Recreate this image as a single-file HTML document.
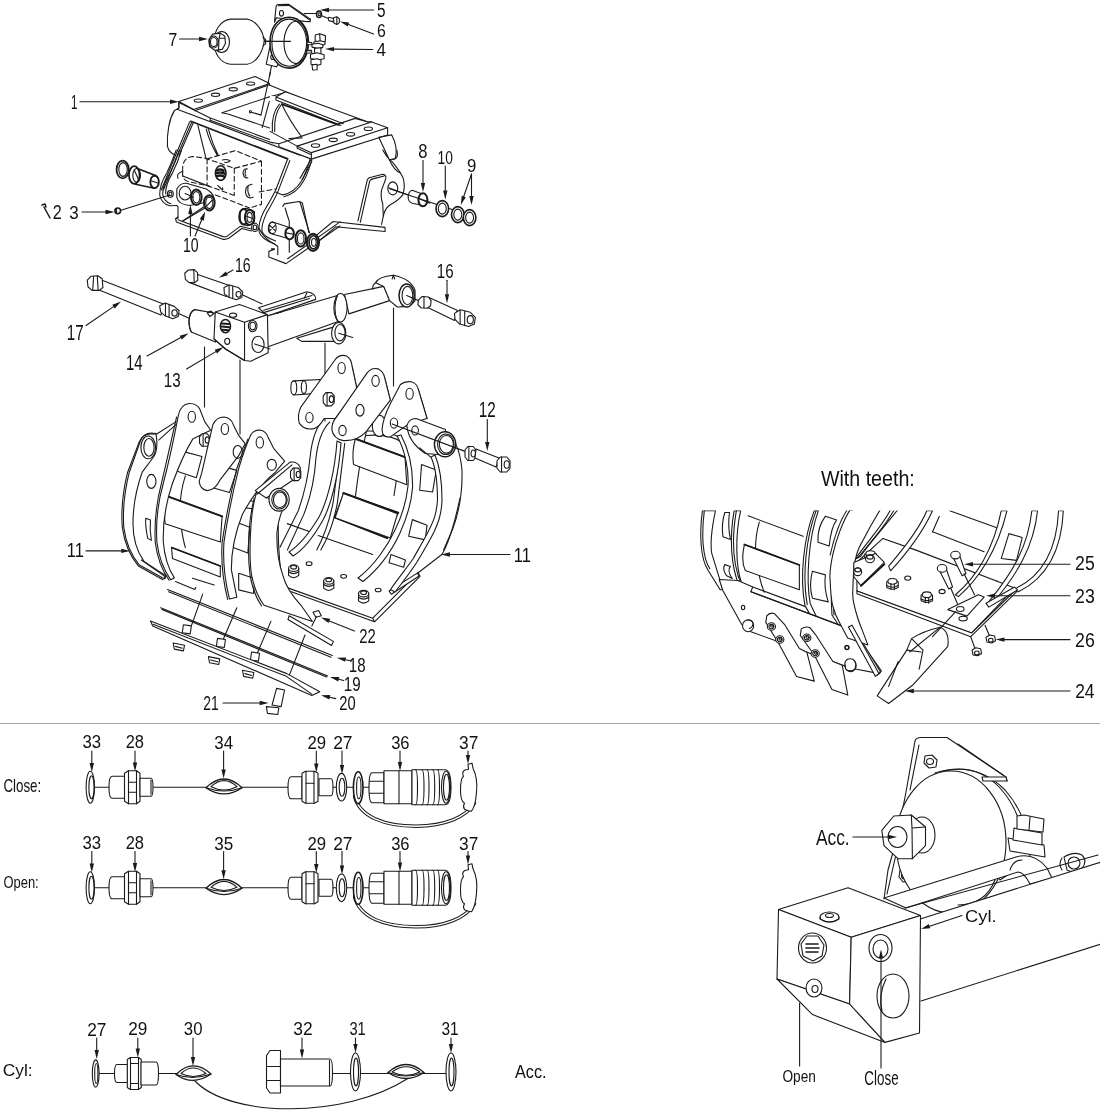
<!DOCTYPE html>
<html><head><meta charset="utf-8"><style>
html,body{margin:0;padding:0;background:#fff;}
svg{display:block;}
text{font-family:"Liberation Sans",sans-serif;fill:#111;}
.ln{stroke:#1a1a1a;stroke-width:1.1;fill:none;stroke-linejoin:round;stroke-linecap:round;}
.ln *{vector-effect:non-scaling-stroke;}
.ln .f{fill:#fff;}
.ln .w{fill:#fff;stroke:none;}
.ln g{fill:none;}
.ln .ld{stroke-width:1.1;}
.ln .ah{fill:#1a1a1a;stroke:none;}
</style></head><body>
<svg width="1100" height="1115" viewBox="0 0 1100 1115">
<defs><clipPath id="clipT"><rect x="690" y="510.5" width="410" height="200"/></clipPath></defs>
<rect width="1100" height="1115" fill="#fff"/>
<rect x="0" y="723" width="1100" height="1" fill="#a6a6a6"/>
<g class="ln">
<line x1="94" y1="787.2" x2="110" y2="787.2"/><line x1="152" y1="787.2" x2="289" y2="787.2"/><ellipse cx="90.3" cy="787.2" rx="4.2" ry="16" class="f"/><ellipse cx="91.5" cy="787.2" rx="2.6" ry="11.5"/><path class="f" d="M112,776.2 h13 v22 h-13 q-3,0 -3,-11 q0,-11 3,-11z"/><path class="f" d="M124.5,773.2 l4,-2.5 h8 l3.5,2.5 v28 l-3.5,2.5 h-8 l-4,-2.5z"/><line x1="128.5" y1="770.7" x2="128.5" y2="803.7"/><line x1="136.5" y1="770.7" x2="136.5" y2="803.7"/><line x1="128.5" y1="782.2" x2="136.5" y2="782.2"/><line x1="128.5" y1="792.2" x2="136.5" y2="792.2"/><path class="f" d="M140,778.2 h11 q2,0 2,9 q0,9 -2,9 h-11z"/><line x1="151" y1="780.2" x2="151" y2="794.2"/><path class="f" d="M206,787.7 Q224,770.2 242,787.7 Q224,800.2 206,787.7 Z" stroke-width="1.3"/><path d="M211,786.7 Q224,774.7 237,786.7 Q224,793.2 211,786.7 Z"/><path d="M206,787.7 Q224,794.2 242,787.7"/><path class="f" d="M291,776.7 h11 v22 h-11 q-3,0 -3,-11 q0,-11 3,-11z"/><path class="f" d="M302,773.2 l3.5,-2 h9 l3.5,2 v28 l-3.5,2 h-9 l-3.5,-2z"/><line x1="306" y1="771.2" x2="306" y2="803.2"/><line x1="314" y1="771.2" x2="314" y2="803.2"/><line x1="306" y1="783.2" x2="314" y2="783.2"/><path class="f" d="M319,778.7 h12 q2,0 2,8.5 q0,8.5 -2,8.5 h-12z"/><line x1="333" y1="787.2" x2="369" y2="787.2"/><ellipse cx="341.5" cy="787.2" rx="5.2" ry="13.8" class="f"/><ellipse cx="342" cy="787.2" rx="2.8" ry="9"/><path d="M354.5,796.2 C360,817.2 385,826.2 416,826.2 C445,826.2 466,817.2 474.5,803.2" stroke-width="3.4"/><path d="M354.5,796.2 C360,817.2 385,826.2 416,826.2 C445,826.2 466,817.2 474.5,803.2" stroke="#fff" stroke-width="1.4"/><ellipse cx="358.2" cy="787.7" rx="4.8" ry="16" class="f" stroke-width="1.6"/><ellipse cx="358.8" cy="787.7" rx="2.2" ry="11"/><path class="f" d="M372,772.7 h12 v30 h-12 q-3,0 -3,-15 q0,-15 3,-15z"/><line x1="369.5" y1="781.2" x2="384" y2="781.2"/><line x1="369.5" y1="793.2" x2="384" y2="793.2"/><path class="f" d="M384,770.7 h28 v33 h-28z"/><line x1="399" y1="770.7" x2="399" y2="803.7"/><path class="f" d="M412,769.7 h33 q6,0 6,17.5 q0,17.5 -6,17.5 h-33z"/><path d="M415.5,769.7 q2,0 2,17.5 q0,17.5 -2,17.5"/><path d="M422,769.7 q2,0 2,17.5 q0,17.5 -2,17.5"/><path d="M427,769.7 q2,0 2,17.5 q0,17.5 -2,17.5"/><path d="M432.7,769.7 q2,0 2,17.5 q0,17.5 -2,17.5"/><path d="M437.5,769.7 q2,0 2,17.5 q0,17.5 -2,17.5"/><ellipse cx="446" cy="787.2" rx="4.5" ry="16"/><ellipse cx="446.5" cy="787.2" rx="3" ry="13"/><path class="f" d="M468,764.2 l4,-1 l1,5 q5,10 3.5,24 q-1,14 -5,19 q-3,0 -7,-2 q-2,-3 0,-6 q-4,-2 -4,-13 q0,-12 3,-14 q-2,-4 1,-6 q3,-1 4,-1z"/><line x1="91.8" y1="751.0" x2="91.8" y2="763.0" class="ld"/><path d="M91.8,772.0L89.6,763.0L94.0,763.0Z" class="ah"/><line x1="135.0" y1="751.0" x2="135.0" y2="762.4" class="ld"/><path d="M135.0,771.4L132.8,762.4L137.2,762.4Z" class="ah"/><line x1="223.6" y1="751.0" x2="223.6" y2="769.6" class="ld"/><path d="M223.6,778.6L221.4,769.6L225.8,769.6Z" class="ah"/><line x1="316.3" y1="751.0" x2="316.3" y2="763.5" class="ld"/><path d="M316.3,772.5L314.1,763.5L318.5,763.5Z" class="ah"/><line x1="342.0" y1="751.0" x2="342.0" y2="765.0" class="ld"/><path d="M342.0,774.0L339.8,765.0L344.2,765.0Z" class="ah"/><line x1="400.0" y1="751.0" x2="400.0" y2="762.0" class="ld"/><path d="M400.0,771.0L397.8,762.0L402.2,762.0Z" class="ah"/><line x1="468.0" y1="751.0" x2="468.0" y2="755.0" class="ld"/><path d="M468.0,764.0L465.8,755.0L470.2,755.0Z" class="ah"/>
<line x1="94" y1="887.8000000000001" x2="110" y2="887.8000000000001"/><line x1="152" y1="887.8000000000001" x2="289" y2="887.8000000000001"/><ellipse cx="90.3" cy="887.8000000000001" rx="4.2" ry="16" class="f"/><ellipse cx="91.5" cy="887.8000000000001" rx="2.6" ry="11.5"/><path class="f" d="M112,876.8000000000001 h13 v22 h-13 q-3,0 -3,-11 q0,-11 3,-11z"/><path class="f" d="M124.5,873.8000000000001 l4,-2.5 h8 l3.5,2.5 v28 l-3.5,2.5 h-8 l-4,-2.5z"/><line x1="128.5" y1="871.3000000000001" x2="128.5" y2="904.3000000000001"/><line x1="136.5" y1="871.3000000000001" x2="136.5" y2="904.3000000000001"/><line x1="128.5" y1="882.8000000000001" x2="136.5" y2="882.8000000000001"/><line x1="128.5" y1="892.8000000000001" x2="136.5" y2="892.8000000000001"/><path class="f" d="M140,878.8000000000001 h11 q2,0 2,9 q0,9 -2,9 h-11z"/><line x1="151" y1="880.8000000000001" x2="151" y2="894.8000000000001"/><path class="f" d="M206,888.3000000000001 Q224,870.8000000000001 242,888.3000000000001 Q224,900.8000000000001 206,888.3000000000001 Z" stroke-width="1.3"/><path d="M211,887.3000000000001 Q224,875.3000000000001 237,887.3000000000001 Q224,893.8000000000001 211,887.3000000000001 Z"/><path d="M206,888.3000000000001 Q224,894.8000000000001 242,888.3000000000001"/><path class="f" d="M291,877.3000000000001 h11 v22 h-11 q-3,0 -3,-11 q0,-11 3,-11z"/><path class="f" d="M302,873.8000000000001 l3.5,-2 h9 l3.5,2 v28 l-3.5,2 h-9 l-3.5,-2z"/><line x1="306" y1="871.8000000000001" x2="306" y2="903.8000000000001"/><line x1="314" y1="871.8000000000001" x2="314" y2="903.8000000000001"/><line x1="306" y1="883.8000000000001" x2="314" y2="883.8000000000001"/><path class="f" d="M319,879.3000000000001 h12 q2,0 2,8.5 q0,8.5 -2,8.5 h-12z"/><line x1="333" y1="887.8000000000001" x2="369" y2="887.8000000000001"/><ellipse cx="341.5" cy="887.8000000000001" rx="5.2" ry="13.8" class="f"/><ellipse cx="342" cy="887.8000000000001" rx="2.8" ry="9"/><path d="M354.5,896.8000000000001 C360,917.8000000000001 385,926.8000000000001 416,926.8000000000001 C445,926.8000000000001 466,917.8000000000001 474.5,903.8000000000001" stroke-width="3.4"/><path d="M354.5,896.8000000000001 C360,917.8000000000001 385,926.8000000000001 416,926.8000000000001 C445,926.8000000000001 466,917.8000000000001 474.5,903.8000000000001" stroke="#fff" stroke-width="1.4"/><ellipse cx="358.2" cy="888.3000000000001" rx="4.8" ry="16" class="f" stroke-width="1.6"/><ellipse cx="358.8" cy="888.3000000000001" rx="2.2" ry="11"/><path class="f" d="M372,873.3000000000001 h12 v30 h-12 q-3,0 -3,-15 q0,-15 3,-15z"/><line x1="369.5" y1="881.8000000000001" x2="384" y2="881.8000000000001"/><line x1="369.5" y1="893.8000000000001" x2="384" y2="893.8000000000001"/><path class="f" d="M384,871.3000000000001 h28 v33 h-28z"/><line x1="399" y1="871.3000000000001" x2="399" y2="904.3000000000001"/><path class="f" d="M412,870.3000000000001 h33 q6,0 6,17.5 q0,17.5 -6,17.5 h-33z"/><path d="M415.5,870.3000000000001 q2,0 2,17.5 q0,17.5 -2,17.5"/><path d="M422,870.3000000000001 q2,0 2,17.5 q0,17.5 -2,17.5"/><path d="M427,870.3000000000001 q2,0 2,17.5 q0,17.5 -2,17.5"/><path d="M432.7,870.3000000000001 q2,0 2,17.5 q0,17.5 -2,17.5"/><path d="M437.5,870.3000000000001 q2,0 2,17.5 q0,17.5 -2,17.5"/><ellipse cx="446" cy="887.8000000000001" rx="4.5" ry="16"/><ellipse cx="446.5" cy="887.8000000000001" rx="3" ry="13"/><path class="f" d="M468,864.8000000000001 l4,-1 l1,5 q5,10 3.5,24 q-1,14 -5,19 q-3,0 -7,-2 q-2,-3 0,-6 q-4,-2 -4,-13 q0,-12 3,-14 q-2,-4 1,-6 q3,-1 4,-1z"/><line x1="91.8" y1="851.6" x2="91.8" y2="863.6" class="ld"/><path d="M91.8,872.6L89.6,863.6L94.0,863.6Z" class="ah"/><line x1="135.0" y1="851.6" x2="135.0" y2="863.0" class="ld"/><path d="M135.0,872.0L132.8,863.0L137.2,863.0Z" class="ah"/><line x1="223.6" y1="851.6" x2="223.6" y2="870.2" class="ld"/><path d="M223.6,879.2L221.4,870.2L225.8,870.2Z" class="ah"/><line x1="316.3" y1="851.6" x2="316.3" y2="864.1" class="ld"/><path d="M316.3,873.1L314.1,864.1L318.5,864.1Z" class="ah"/><line x1="342.0" y1="851.6" x2="342.0" y2="865.6" class="ld"/><path d="M342.0,874.6L339.8,865.6L344.2,865.6Z" class="ah"/><line x1="400.0" y1="851.6" x2="400.0" y2="862.6" class="ld"/><path d="M400.0,871.6L397.8,862.6L402.2,862.6Z" class="ah"/><line x1="468.0" y1="851.6" x2="468.0" y2="855.6" class="ld"/><path d="M468.0,864.6L465.8,855.6L470.2,855.6Z" class="ah"/>
<line x1="99" y1="1073.5" x2="115" y2="1073.5"/><line x1="158" y1="1073.5" x2="178" y2="1073.5"/><line x1="332" y1="1073.5" x2="451" y2="1073.5"/><ellipse cx="95.7" cy="1073.5" rx="3.4" ry="13.6" class="f"/><ellipse cx="96.3" cy="1073.5" rx="1.6" ry="10"/><path class="f" d="M117,1064.5 h10.5 v18 h-10.5 q-2.5,0 -2.5,-9 q0,-9 2.5,-9z"/><path class="f" d="M127.3,1059.5 l3,-2 h8 l3,2 v28 l-3,2 h-8 l-3,-2z"/><line x1="130.5" y1="1057.5" x2="130.5" y2="1089.5"/><line x1="138.5" y1="1057.5" x2="138.5" y2="1089.5"/><line x1="130.5" y1="1063.5" x2="138.5" y2="1063.5"/><line x1="130.5" y1="1083.5" x2="138.5" y2="1083.5"/><path class="f" d="M141,1062.0 h15 q2.5,0 2.5,11.5 q0,11.5 -2.5,11.5 h-15z"/><path d="M194.5,1080.5 C230,1118.5 345,1118.5 407,1079.0"/><path class="f" d="M176,1074.5 Q193,1057.5 211,1074.0 Q193,1086.5 176,1074.5 Z" stroke-width="1.3"/><path d="M181,1073.5 Q193,1062.5 206,1073.5 Q193,1079.5 181,1073.5 Z"/><path d="M176,1074.5 Q193,1080.5 211,1074.0"/><path class="f" d="M270,1050.5 h10.5 v42.5 h-10.5 l-3.5,-5 v-32.5z"/><line x1="267" y1="1066.5" x2="280.5" y2="1066.5"/><line x1="267" y1="1080.5" x2="280.5" y2="1080.5"/><path class="f" d="M280.5,1059.0 h49.5 q2.5,0 2.5,13.5 q0,13.5 -2.5,13.5 h-49.5z"/><line x1="329.5" y1="1060.5" x2="329.5" y2="1085.5"/><ellipse cx="355.5" cy="1072.0" rx="5" ry="19" class="f"/><ellipse cx="356.0" cy="1072.0" rx="2.5" ry="14"/><ellipse cx="451" cy="1072.0" rx="5" ry="19" class="f"/><ellipse cx="451.5" cy="1072.0" rx="2.5" ry="14"/><path class="f" d="M388,1072.5 Q406,1056.5 424,1072.5 Q406,1084.5 388,1072.5 Z" stroke-width="1.3"/><path d="M392,1072.0 Q406,1061.5 420,1072.0 Q406,1078.5 392,1072.0 Z"/><path d="M388,1072.5 Q406,1079.5 424,1072.5"/><line x1="96.7" y1="1038.0" x2="96.7" y2="1050.0" class="ld"/><path d="M96.7,1059.0L94.5,1050.0L98.9,1050.0Z" class="ah"/><line x1="137.8" y1="1038.0" x2="137.8" y2="1048.5" class="ld"/><path d="M137.8,1057.5L135.6,1048.5L140.0,1048.5Z" class="ah"/><line x1="193.0" y1="1038.0" x2="193.0" y2="1057.0" class="ld"/><path d="M193.0,1066.0L190.8,1057.0L195.2,1057.0Z" class="ah"/><line x1="302.0" y1="1038.0" x2="302.0" y2="1049.5" class="ld"/><path d="M302.0,1058.5L299.8,1049.5L304.2,1049.5Z" class="ah"/><line x1="355.5" y1="1038.0" x2="355.5" y2="1044.0" class="ld"/><path d="M355.5,1053.0L353.3,1044.0L357.7,1044.0Z" class="ah"/><line x1="451.0" y1="1038.0" x2="451.0" y2="1044.0" class="ld"/><path d="M451.0,1053.0L448.8,1044.0L453.2,1044.0Z" class="ah"/>
<path class="w" d="M921,737.5 L947,737.5 L1006,777 L1007,781 L1030,800 L1030,880 L884,899 L888,870 L897,838 L906,792 L915,741 Q916,737.5 921,737.5 Z"/><path d="M1007,781 L1006,777 L947,737.5 L921,737.5 Q916,737.5 915,741 L906,792 L897,838 L888,870 L884,899"/><path d="M919,745 L910,790"/><path d="M958,744 L1003,775"/><path d="M897,850 L887,894"/><path class="f" d="M925,756 l7,-1 l5,5 l-1,7 l-7,1 l-5,-5 z"/><ellipse cx="930" cy="761.5" rx="3.5" ry="3"/><path class="f" d="M900,870 l6,-1 l4,5 l-1,7 l-6,1 l-4,-5 z"/><ellipse cx="904.5" cy="876" rx="3" ry="3"/><path class="f" d="M935,773 Q975,760 1005,790 Q1030,818 1030,860 L1000,880 Z" /><path d="M940,772 Q976,762 1000,788 Q1022,812 1025,850"/><ellipse class="f" cx="951" cy="842" rx="55" ry="71"/><path d="M982,777 L1006,777 L1007,781 L983,781 Z" class="f"/><path class="f" d="M1008,838 L1044,845 L1045,857 L1010,851 Z"/><path class="f" d="M1014,828 L1042,833 L1042,845 L1013,840 Z"/><path class="f" d="M1017,816 L1024,815 L1044,819 L1043,832 L1017,829 Z"/><path d="M1030,817 L1029,830"/><ellipse class="f" cx="922" cy="835" rx="13" ry="18"/><path class="f" d="M881.8,830.4 L893.8,816 L911.3,815 L925.5,827 L925.5,845.6 L912.4,858.7 L898,858.7 L884,845.6 Z"/><path d="M911.3,815 L912,828 L925.5,827 M912,828 L912.4,858.7"/><ellipse cx="897.5" cy="837" rx="9.5" ry="10.5"/><path class="f" d="M884,898 L1016,857 Q1034,852 1047,868 L1052,878 L1030,884 Q1024,872 1018,872 L906,908 Z"/><path class="f" d="M1064,857 q10,-6 18,-2 q6,6 0,13 q-8,6 -15,2 z"/><ellipse cx="1074" cy="863" rx="6" ry="6"/><path d="M1062,858 q-4,6 0,12"/><path d="M958,905 Q985,905 995,880 M1010,870 q3,-10 12,-10"/><path class="w" d="M921,918.7 L1101,862 L1101,944 L921,1001 Z"/><path d="M921,918.7 L1101,862 M1101,944 L921,1001"/><path d="M905,908 L1098,855"/><path class="f" d="M778.5,909.5 L848,887.8 L920.5,915.6 L851.2,937.3 Z"/><path class="f" d="M778.5,909.5 L851.2,937.3 L849.6,1004 L777,979 Z"/><path class="f" d="M777,979 L849.6,1004 L885,1042.4 L812.5,1014.6 Z"/><path class="f" d="M851.2,937.3 L920.5,915.6 L919.5,1033 L885,1042.4 L849.6,1004 Z"/><ellipse class="f" cx="829.5" cy="917" rx="9.5" ry="5"/><ellipse cx="829.5" cy="915.5" rx="4" ry="2"/><path d="M820,917 v2 q9.5,6 19,0 v-2"/><ellipse class="f" cx="812.5" cy="948" rx="14" ry="15"/><path class="f" d="M801,944 L807,936 L818,936 L824,945 L822,956 L813,961 L803,956 Z"/><path d="M806,944 h12 M806,948 h13 M806,952 h12" stroke-width="1.6"/><ellipse class="f" cx="814" cy="988" rx="8" ry="9"/><ellipse cx="815" cy="989" rx="3" ry="3.5"/><ellipse class="f" cx="880.5" cy="948" rx="11.5" ry="13.5"/><ellipse cx="880.5" cy="949" rx="7.5" ry="9"/><ellipse class="f" cx="893" cy="996" rx="16" ry="22"/><path d="M882,1011 q-4,-16 4,-32"/><line x1="799.6" y1="1003" x2="799.6" y2="1066"/><line x1="881.0" y1="1068.0" x2="881.0" y2="958.5" class="ld"/><path d="M881.0,949.5L883.2,958.5L878.8,958.5Z" class="ah"/><line x1="853.0" y1="837.0" x2="888.0" y2="837.0" class="ld"/><path d="M897.0,837.0L888.0,839.2L888.0,834.8Z" class="ah"/><line x1="962.0" y1="915.6" x2="929.6" y2="926.2" class="ld"/><path d="M921.0,929.0L928.9,924.1L930.2,928.3Z" class="ah"/>
<g clip-path="url(#clipT)"><g transform="translate(695,505) scale(0.18636)"><path d="M285,58 L580,168"/><path d="M345,92 Q325,160 325,232"/><path class="f" d="M265,212 L560,322 L560,455 L270,352 Q245,300 265,212 Z"/><path d="M265,212 L560,322" stroke-width="1.8"/><path d="M345,380 Q355,430 372,468"/><path d="M310,440 L600,548"/><path class="f" d="M40,30 C22,160 30,290 70,350 L135,455 L150,455 L90,260 C80,200 95,100 110,30 Z"/><path d="M50,30 C34,160 40,285 80,342"/><path class="f" d="M160,40 Q140,100 150,170 L190,185 Q175,110 185,40 Z"/><path class="f" d="M160,320 Q145,345 170,380 L200,395 Q170,350 190,330 Z"/><path class="f" d="M210,30 C185,170 190,330 240,440 L300,522 L312,512 L250,420 C218,330 215,160 245,30 Z"/><path d="M222,30 C198,170 202,320 250,430"/><path class="f" d="M640,30 C585,170 560,380 590,540 L660,662 L677,652 L618,528 C595,400 608,180 662,30 Z"/><path d="M650,30 C597,170 574,380 602,535"/><path class="f" d="M700,60 L760,80 Q730,120 720,220 L660,200 Q655,120 700,60 Z"/><path class="f" d="M630,355 L700,375 Q690,440 715,520 L630,500 Q610,430 630,355 Z"/><path class="f" d="M830,30 C755,170 720,400 735,590 L820,720 L835,710 L760,590 C745,420 770,200 848,30 Z"/><path d="M840,30 C765,170 732,400 746,590"/><path class="f" d="M130,400 L150,460 L250,640 L300,680 L820,870 L860,880 L990,905 L1000,890 L830,650 L800,655 L300,465 L310,440 L230,405 Z"/><path d="M300,465 L820,660"/><path class="f" d="M820,650 L840,640 L995,895 L975,915 Z"/><ellipse cx="258" cy="550" rx="9" ry="12"/><ellipse cx="815" cy="765" rx="10" ry="12"/><path class="f" d="M385,595 Q400,575 425,582 L480,640 L560,770 L600,790 L640,945 L545,920 L450,745 L380,630 Z"/><path class="f" d="M570,665 Q590,650 615,657 L650,700 L740,840 L790,860 L820,1020 L735,990 L640,805 L565,700 Z"/><ellipse class="f" cx="410" cy="652" rx="22" ry="20"/><ellipse cx="410" cy="652" rx="13" ry="12"/><ellipse cx="413" cy="649" rx="7" ry="6"/><ellipse class="f" cx="455" cy="722" rx="22" ry="20"/><ellipse cx="455" cy="722" rx="13" ry="12"/><ellipse cx="458" cy="719" rx="7" ry="6"/><ellipse class="f" cx="600" cy="712" rx="22" ry="20"/><ellipse cx="600" cy="712" rx="13" ry="12"/><ellipse cx="603" cy="709" rx="7" ry="6"/><ellipse class="f" cx="645" cy="797" rx="22" ry="20"/><ellipse cx="645" cy="797" rx="13" ry="12"/><ellipse cx="648" cy="794" rx="7" ry="6"/><ellipse class="f" cx="285" cy="648" rx="30" ry="32"/><path d="M280,618 q30,-4 32,20 q-4,20 -20,25"/><ellipse class="f" cx="835" cy="862" rx="30" ry="32"/><path d="M830,832 q30,-4 32,20 q-4,20 -20,25"/></g><g transform="translate(860,505) scale(0.19091)"><path d="M470,30 L720,120"/><path d="M380,140 L650,245"/><path d="M380,140 L415,60"/><path class="f" d="M780,150 L850,170 L820,290 L740,280 Z"/><path class="f" d="M640,380 L720,400 L690,470 L620,450 Z"/><path class="f" d="M-16,300 L120,175 L290,235 L810,435 L585,670 L-16,450 Z"/><path class="f" d="M-16,450 L585,670 L820,440 L820,455 L580,690 L-16,465 Z"/><path class="f" d="M740,30 C700,230 610,380 500,470 L515,480 C620,390 720,240 770,30 Z"/><path class="f" d="M350,30 C300,150 200,260 150,320 L160,345 C220,280 320,160 380,30 Z"/><path class="f" d="M900,30 C880,220 800,350 680,500 L690,520 C820,370 910,220 930,30 Z"/><path class="f" d="M1040,30 C1030,250 940,380 810,440 L830,455 C960,390 1055,260 1065,30 Z"/><path class="f" d="M660,515 L810,430 L825,445 L675,535 Z"/><path class="f" d="M25,257 v30 q30,18 60,0 v-30 q-30,-18 -60,0 Z"/><path d="M25,277 q30,18 60,0"/><ellipse cx="55" cy="255" rx="24" ry="15" class="f"/><path d="M47,267 v30 M65,269 v30"/><path class="f" d="M140,402 v30 q30,18 60,0 v-30 q-30,-18 -60,0 Z"/><path d="M140,422 q30,18 60,0"/><ellipse cx="170" cy="400" rx="24" ry="15" class="f"/><path d="M162,412 v30 M180,414 v30"/><path class="f" d="M320,472 v30 q30,18 60,0 v-30 q-30,-18 -60,0 Z"/><path d="M320,492 q30,18 60,0"/><ellipse cx="350" cy="470" rx="24" ry="15" class="f"/><path d="M342,482 v30 M360,484 v30"/><ellipse cx="250" cy="383" rx="16" ry="11"/><ellipse cx="430" cy="453" rx="16" ry="11"/><path class="f" d="M485,270 L520,260 L555,360 L535,370 Z"/><ellipse class="f" cx="500" cy="262" rx="25" ry="20"/><path class="f" d="M415,340 L450,330 L485,430 L465,440 Z"/><ellipse class="f" cx="430" cy="332" rx="25" ry="20"/><path d="M545,360 L600,470 M475,435 L520,540"/><path class="f" d="M460,548 L620,470 L650,482 L560,582 Z"/><ellipse cx="525" cy="545" rx="20" ry="13"/><ellipse class="f" cx="540" cy="595" rx="22" ry="12"/><path d="M655,630 L680,690 M580,690 L605,760"/><path class="f" d="M660,693 l20,-12 l25,5 l5,25 l-20,12 l-25,-5 Z"/><ellipse cx="685" cy="708" rx="12" ry="10"/><path class="f" d="M587,760 l20,-12 l25,5 l5,25 l-20,12 l-25,-5 Z"/><ellipse cx="612" cy="775" rx="12" ry="10"/><path class="f" d="M90,1000 L245,760 L270,700 Q330,660 420,640 Q470,660 460,740 L280,940 L150,1040 Z"/><path d="M270,700 Q320,750 330,760 M245,760 L320,770 M200,820 L150,950 M420,640 L260,770 M330,760 L310,860"/><path d="M380,690 L500,560"/></g><g transform="translate(800,505) scale(0.17937)"><path class="f" d="M511,15 C460,120 360,220 309,301 L337,287 C390,210 480,110 554,15 Z"/><path d="M531,15 C478,120 380,220 322,295"/><path class="f" d="M288,15 C240,80 200,200 182,279 C170,340 165,400 168,418 C170,480 175,530 182,560 C195,610 210,640 225,665 L266,741 L378,780 C350,700 330,660 322,630 C300,560 292,520 294,490 C296,420 298,380 301,350 C310,280 325,240 344,210 C380,140 420,70 454,15 Z"/><path d="M271,15 C224,80 186,200 168,279"/><path class="f" d="M300,320 L420,270 L470,320 L340,450 L300,400 Z"/><path d="M340,450 L470,330" stroke-width="2"/><ellipse class="f" cx="390" cy="300" rx="25" ry="22"/><ellipse cx="390" cy="290" rx="18" ry="12"/><ellipse class="f" cx="322" cy="372" rx="22" ry="22"/><ellipse cx="322" cy="362" rx="16" ry="11"/><path class="f" d="M270,680 L290,670 L440,940 L420,955 Z"/><ellipse cx="262" cy="795" rx="12" ry="10"/><path class="f" d="M250,880 Q260,850 295,860 Q320,880 305,915 Q280,935 255,915 Z"/></g></g><line x1="1070.0" y1="564.2" x2="973.0" y2="564.2" class="ld"/><path d="M964.0,564.2L973.0,562.0L973.0,566.4Z" class="ah"/><line x1="1070.0" y1="595.7" x2="995.0" y2="595.7" class="ld"/><path d="M986.0,595.7L995.0,593.5L995.0,597.9Z" class="ah"/><line x1="1070.0" y1="639.6" x2="1004.5" y2="639.6" class="ld"/><path d="M995.5,639.6L1004.5,637.4L1004.5,641.8Z" class="ah"/><line x1="1070.0" y1="691.0" x2="913.9" y2="691.0" class="ld"/><path d="M904.9,691.0L913.9,688.8L913.9,693.2Z" class="ah"/>
<g transform="translate(140,100) scale(0.11818)"><path d="M320,75 L292,88 Q255,150 243,225 Q228,310 232,390 Q245,450 300,465"/><path d="M420,185 L300,470 L180,762 M436,190 L316,470 L198,762 M450,195 L330,470"/><path d="M490,215 L560,500 M560,245 Q590,360 650,460 M580,250 Q612,370 662,468 L650,470"/><path d="M430,180 L1250,498" stroke-width="1.7"/></g><g transform="translate(100,150) scale(0.11818)"><path d="M645,0 Q610,100 565,195 Q505,290 505,380 Q520,455 590,472 L650,470 M672,0 Q640,100 590,200 Q530,290 530,375 Q545,440 600,455 M690,0 Q660,100 610,200 Q555,290 555,370"/><path class="f" d="M650,330 Q690,260 760,290 L900,330 Q980,380 960,430 L760,470 Q660,460 650,400 Z"/><path d="M700,220 L930,310 M660,240 Q640,200 700,180"/><ellipse cx="720" cy="365" rx="50" ry="58"/><ellipse class="f" cx="595" cy="372" rx="25" ry="28"/><ellipse cx="595" cy="372" rx="13" ry="15"/><path d="M590,380 L170,512"/><ellipse class="f" cx="815" cy="400" rx="45" ry="65" stroke-width="2"/><ellipse cx="815" cy="400" rx="30" ry="48"/><ellipse class="f" cx="925" cy="447" rx="45" ry="65" stroke-width="2"/><ellipse cx="925" cy="447" rx="30" ry="48"/><path d="M700,600 L880,480 M720,368 L790,400 M905,470 L950,425"/><path d="M650,470 L660,480 L660,575 L645,580"/><ellipse class="f" cx="150" cy="515" rx="24" ry="24" stroke-width="1.6"/><path d="M140,500 v30"/><ellipse class="f" cx="192" cy="165" rx="52" ry="75" stroke-width="1.8"/><ellipse cx="195" cy="165" rx="36" ry="58"/><path class="f" d="M300,150 L470,215 Q505,240 490,290 Q470,330 440,320 L300,290 Z" stroke-width="1.6"/><ellipse class="f" cx="290" cy="212" rx="45" ry="75" stroke-width="1.8"/><ellipse cx="310" cy="215" rx="32" ry="58"/><path d="M290,170 L330,260"/><ellipse class="f" cx="462" cy="270" rx="36" ry="52" stroke-width="1.8"/><path d="M430,260 L490,280"/><path stroke-dasharray="5,3" d="M700,180 Q690,70 780,55 L900,70 M700,180 Q690,260 760,270 L900,300"/></g><g transform="translate(200,150) scale(0.11818)"><path d="M740,80 L640,340 Q600,420 540,520 Q490,620 500,690 Q515,750 630,795 M760,90 L660,350 Q625,430 565,530 Q515,640 525,690 Q540,735 640,770"/><path d="M930,80 Q900,190 860,260 Q800,360 700,380 L640,355 M945,85 Q915,195 875,265 Q815,370 710,395"/><path stroke-dasharray="5,3" d="M60,75 L300,5 L520,95 L290,155 Z M60,75 L60,300 M290,155 L290,385 M520,95 L520,460 L420,490 M60,300 L290,385 M130,380 L420,490 M500,355 L640,330"/><ellipse cx="175" cy="195" rx="45" ry="62" stroke-width="1.6"/><path d="M145,170 Q175,160 200,175 M140,195 Q175,185 210,200 M145,220 Q175,210 205,225" stroke-width="2.5"/><path d="M400,160 Q360,160 365,200 Q370,240 405,235 M385,175 Q375,200 390,220"/><path d="M440,290 Q380,300 385,360 Q395,420 450,400 M410,300 Q395,350 420,390"/><path d="M190,85 Q220,75 255,90 Q240,110 210,105"/><path d="M150,300 L180,330 Q200,345 190,320"/><path class="f" d="M340,520 Q360,490 400,495 L460,520 L460,610 L400,640 Q340,630 340,580 Z"/><ellipse cx="370" cy="565" rx="38" ry="65" stroke-width="2"/><ellipse class="f" cx="420" cy="570" rx="40" ry="65" stroke-width="2"/><ellipse cx="420" cy="570" rx="22" ry="42"/><path d="M395,560 L445,580"/><ellipse class="f" cx="465" cy="655" rx="28" ry="35"/><ellipse cx="465" cy="655" rx="15" ry="20"/></g><g transform="translate(300,150) scale(0.11818)"><path d="M700,0 Q730,60 780,100 Q840,170 870,230 Q895,300 870,380 Q830,430 760,465 Q715,500 705,560 L690,630"/><path d="M720,0 Q735,60 780,80 Q820,80 825,40 L820,0"/><path d="M490,600 L570,250 Q580,230 610,228 L700,205 Q735,210 725,245 L690,340 Q680,400 700,455 L705,560 M510,612 L590,262 Q600,245 625,242 L712,220"/><ellipse cx="785" cy="325" rx="42" ry="55"/><path d="M750,320 L1100,450"/><path class="f" d="M950,340 L1040,375 L1040,470 L950,450 Q915,440 915,395 Q920,345 950,340 Z"/><ellipse class="f" cx="1040" cy="422" rx="38" ry="55" stroke-width="2"/><path d="M1005,410 L1075,440"/><path d="M280,605 L720,655 L720,690 L300,650 M280,605 L140,720 M300,650 L170,762"/><path d="M0,440 L80,700 M0,240 L90,85 M20,250 L100,95"/></g><g transform="translate(160,190) scale(0.16364)"><path d="M95,175 L100,195 L380,300 Q400,305 420,295 L500,235 L560,250 M95,175 L110,165 M110,182 L385,285 Q398,288 410,282 L490,222 L560,238"/><path d="M140,190 L275,110"/><path d="M700,330 Q640,300 615,250 L600,230 M700,330 L720,345 L720,395 M665,375 L665,410 L770,450 L1100,220 M680,360 L700,360 M665,375 L700,362 M780,420 L1100,195"/><path d="M750,100 L760,85 L850,70 L870,80 L910,260 M765,110 Q775,150 790,190 L790,380"/><path class="f" d="M690,195 L800,232 L795,300 L690,270 Q660,265 662,232 Q665,198 690,195 Z"/><ellipse cx="688" cy="232" rx="22" ry="35"/><path d="M670,215 L705,250 M670,250 L705,215"/><ellipse class="f" cx="792" cy="266" rx="26" ry="36" stroke-width="2"/><path d="M770,262 L815,270"/><ellipse class="f" cx="860" cy="296" rx="32" ry="50" stroke-width="2"/><ellipse cx="860" cy="296" rx="20" ry="34"/><ellipse class="f" cx="935" cy="320" rx="37" ry="53" stroke-width="2"/><ellipse cx="937" cy="320" rx="26" ry="40" stroke-width="1.6"/><ellipse cx="940" cy="320" rx="14" ry="24"/></g><line x1="80.0" y1="101.7" x2="170.0" y2="101.7" class="ld"/><path d="M179.0,101.7L170.0,103.9L170.0,99.5Z" class="ah"/><line x1="82.0" y1="212.0" x2="105.5" y2="212.0" class="ld"/><path d="M114.5,212.0L105.5,214.2L105.5,209.8Z" class="ah"/><line x1="190.4" y1="236.0" x2="190.4" y2="214.0" class="ld"/><path d="M190.4,205.0L192.6,214.0L188.2,214.0Z" class="ah"/><line x1="195.0" y1="236.0" x2="201.7" y2="219.8" class="ld"/><path d="M205.2,211.5L203.8,220.7L199.7,219.0Z" class="ah"/><line x1="423.0" y1="160.6" x2="423.0" y2="183.0" class="ld"/><path d="M423.0,192.0L420.8,183.0L425.2,183.0Z" class="ah"/><line x1="445.3" y1="166.0" x2="445.3" y2="190.6" class="ld"/><path d="M445.3,199.6L443.1,190.6L447.5,190.6Z" class="ah"/><line x1="471.5" y1="174.0" x2="463.7" y2="196.5" class="ld"/><path d="M460.8,205.0L461.7,195.8L465.8,197.2Z" class="ah"/><line x1="471.5" y1="174.0" x2="471.5" y2="196.0" class="ld"/><path d="M471.5,205.0L469.3,196.0L473.7,196.0Z" class="ah"/><path d="M389.6,188.7 L474.7,217"/><ellipse class="f" cx="442.3" cy="208.6" rx="6.3" ry="8" stroke-width="1.6"/><ellipse cx="442.3" cy="208.6" rx="4" ry="5.5"/><ellipse class="f" cx="457.8" cy="214.6" rx="6.3" ry="8" stroke-width="1.6"/><ellipse cx="457.8" cy="214.6" rx="4" ry="5.5"/><ellipse class="f" cx="469.6" cy="217.6" rx="6.3" ry="8" stroke-width="1.6"/><ellipse cx="469.6" cy="217.6" rx="4" ry="5.5"/><path d="M44,207 L50,218 M42,205 l3,-1 l1,3" stroke-width="1.5"/>
<g transform="translate(170,72) scale(0.11818)"><path class="w" d="M75,250 L720,38 L840,95 L1100,200 L1100,705 L60,315 L75,305 Z"/><path d="M60,315 L75,305 L75,250 L720,38 L840,95"/><path d="M75,250 L200,318 L838,100"/><path d="M210,328 L830,112"/><path d="M75,250 L75,305 M75,258 L340,390 M60,315 L1100,705 M340,390 L920,598 M340,390 L340,410 M345,410 L920,620"/><path d="M440,345 L810,220 Q850,205 880,200 L900,195 L990,170 M840,110 L990,172 L1100,215"/><path d="M440,345 L490,355 L1100,560"/><path d="M780,470 L840,250 M870,500 Q850,400 890,300 Q920,260 940,275 Q990,380 1100,520"/><path d="M840,95 L840,112"/><ellipse cx="240" cy="242" rx="35" ry="14"/><ellipse cx="385" cy="193" rx="35" ry="14"/><ellipse cx="535" cy="146" rx="35" ry="14"/><ellipse cx="682" cy="98" rx="35" ry="14"/><path d="M850,0 L770,365 L690,340"/><ellipse cx="680" cy="336" rx="8" ry="10"/></g><g transform="translate(270,90) scale(0.11818)"><path class="w" d="M50,60 L130,15 L830,270 L860,270 L995,320 L995,380 L350,585 L75,480 L0,440 L0,45 Z"/><path d="M50,60 L620,285 M50,85 L600,300 M50,60 L50,85 M50,60 L130,15 L830,270 L860,270"/><path class="f" d="M920,400 L1010,590 L1060,580 Q1085,480 1030,380 Z"/><path d="M1010,590 Q1050,680 1100,700"/><path d="M100,120 L580,295" stroke-width="1.8"/><path d="M20,350 Q10,200 80,120 M40,350 Q30,210 95,125 M100,120 Q160,250 270,400 M160,410 L270,405"/><path d="M0,350 L230,475 M0,440 L75,455 L75,480 L350,585 M75,455 L720,240 L830,270"/><path class="f" d="M230,475 L860,270 L995,320 L350,530 Z"/><path d="M350,530 L350,585 L995,380 L995,320 M230,475 L230,492 L350,548"/><ellipse cx="385" cy="470" rx="35" ry="15"/><ellipse cx="535" cy="422" rx="35" ry="15"/><ellipse cx="682" cy="375" rx="35" ry="15"/><ellipse cx="832" cy="328" rx="35" ry="15"/></g>
<g transform="translate(200,0) scale(0.12728)"><path d="M572,470 L545,600"/><path class="f" d="M240,150 L370,150 C440,160 495,240 505,320 C495,410 440,495 370,505 L240,505 C160,495 110,420 110,330 C110,240 160,160 240,150 Z"/><path d="M495,295 L515,310 L515,345 L495,360"/><path d="M505,325 L712,325"/><ellipse class="f" cx="170" cy="330" rx="62" ry="82"/><path class="f" d="M70,310 L100,268 L160,260 L195,285 L200,342 L175,388 L115,396 L75,366 Z"/><path d="M160,260 L150,300 L195,300 M150,300 L145,395"/><ellipse cx="108" cy="330" rx="36" ry="47"/><ellipse cx="108" cy="330" rx="26" ry="35"/><path class="f" d="M612,36 L695,34 L868,150 L866,170 L820,168 L600,140 L585,175 L598,50 Q600,38 612,36 Z"/><path d="M615,45 L700,42 L860,155"/><ellipse cx="640" cy="105" rx="16" ry="22"/><path class="f" d="M548,372 L520,505 L600,525 L640,470 L580,400 Z"/><ellipse cx="570" cy="448" rx="14" ry="20"/><path class="f" d="M700,135 C790,135 850,220 852,330 C850,450 790,535 700,535 C610,535 550,450 550,335 C550,220 610,135 700,135 Z" stroke-width="1.6"/><path d="M700,150 C780,150 835,230 838,335 C835,440 780,520 700,520 C620,520 565,440 565,335 C565,230 620,150 700,150 Z"/><path d="M755,165 C810,170 845,250 845,335 C845,420 810,495 755,500 C700,495 660,420 660,335 C660,250 700,170 755,165 Z"/><path d="M505,325 L712,325"/><path class="f" d="M840,330 L878,335 L880,352 L842,352 Z"/><path class="f" d="M838,398 L876,396 L878,414 L836,418 Z"/><path class="f" d="M905,275 L940,265 L985,280 L985,325 L945,335 L905,322 Z"/><path d="M940,268 L945,333"/><path class="f" d="M895,330 L945,320 L982,330 L982,350 L945,362 L895,350 Z"/><path class="f" d="M880,348 L930,340 L965,352 L965,372 L930,382 L880,370 Z"/><path class="f" d="M900,380 L950,375 L950,420 L900,425 Z"/><path class="f" d="M868,425 L920,415 L975,430 L975,462 L925,472 L868,460 Z"/><path class="f" d="M872,470 L920,462 L950,472 L950,505 L920,515 L872,505 Z"/><path class="f" d="M880,510 L920,505 L920,548 L885,550 Z"/><path d="M820,106 L918,106"/><ellipse class="f" cx="935" cy="112" rx="20" ry="26" stroke-width="1.4"/><ellipse cx="937" cy="112" rx="9" ry="12"/><path d="M952,122 L1010,146"/><path class="f" d="M1012,135 L1048,145 L1048,172 L1012,162 Q1004,150 1012,135 Z"/><path class="f" d="M1048,140 L1075,132 L1095,148 L1095,178 L1075,192 L1052,180 Z"/><path d="M1075,135 L1075,190"/></g><line x1="179.5" y1="39.0" x2="199.0" y2="39.0" class="ld"/><path d="M208.0,39.0L199.0,41.2L199.0,36.8Z" class="ah"/><line x1="373.6" y1="10.0" x2="329.0" y2="10.0" class="ld"/><path d="M320.0,10.0L329.0,7.8L329.0,12.2Z" class="ah"/><line x1="373.6" y1="34.0" x2="348.4" y2="24.6" class="ld"/><path d="M340.0,21.4L349.2,22.5L347.7,26.6Z" class="ah"/><line x1="372.7" y1="49.5" x2="334.0" y2="49.1" class="ld"/><path d="M325.0,49.0L334.0,46.9L334.0,51.3Z" class="ah"/>
<path d="M204.5,347 L204.5,407 M240,360 L240,434 M325,343 L325,421 M393.5,308 L393.5,386"/><g transform="translate(80,262) scale(0.18182)"><path class="f" d="M100,92 L462,232 L445,292 L95,150 Z"/><path class="f" d="M40,100 L62,78 L98,76 L122,92 L126,140 L106,156 L66,156 L44,136 Z"/><path d="M95,78 L100,155 M75,78 L70,155"/><path class="f" d="M438,242 L468,226 L518,244 L545,268 L540,300 L510,312 L468,296 L444,276 Z"/><path d="M470,228 L470,296 M490,232 L490,302"/><ellipse cx="520" cy="280" rx="15" ry="17"/><path d="M545,285 L600,310"/><path class="f" d="M615,58 L830,132 L805,190 L600,112 Z"/><path class="f" d="M576,62 L596,44 L628,42 L646,58 L648,100 L630,114 L598,112 L580,96 Z"/><path d="M626,44 L628,110"/><path class="f" d="M792,140 L820,126 L870,140 L895,165 L890,195 L860,208 L818,194 L794,175 Z"/><path d="M820,128 L820,194 M840,132 L840,200"/><ellipse cx="872" cy="178" rx="14" ry="16"/><path d="M895,182 L1000,230"/><path class="f" d="M632,262 L745,282 L745,440 L612,385 Q590,330 605,290 Q615,265 632,262 Z"/><path d="M632,262 Q600,280 600,325 Q600,370 612,385"/><path d="M700,280 L720,270 L735,285 L715,300 Z"/></g><g transform="translate(200,265) scale(0.25452)"><path class="f" d="M230,168 L420,105 Q455,110 455,135 L265,200 Z"/><path d="M250,178 L440,120 M240,190 L430,132"/><path class="f" d="M380,288 L520,245 L560,262 L555,300 L400,300 Z"/><ellipse class="f" cx="545" cy="268" rx="28" ry="42"/><ellipse cx="550" cy="266" rx="20" ry="32"/><path d="M545,268 L600,285"/><path class="f" d="M568,116 L722,84 L745,140 L585,192 Z"/><path class="f" d="M690,70 Q700,45 760,40 Q830,55 845,100 L845,140 Q830,165 775,165 L745,140 L722,84 Z"/><path d="M690,70 Q675,80 680,95"/><ellipse class="f" cx="812" cy="120" rx="30" ry="45" stroke-width="1.5"/><ellipse cx="815" cy="120" rx="21" ry="36"/><path d="M755,55 L760,40 L765,55" /><path d="M812,120 L860,140"/><path class="f" d="M265,200 L540,120 L562,215 L265,322 Z"/><ellipse class="f" cx="552" cy="168" rx="26" ry="56"/><path d="M540,120 Q520,170 540,220"/><path d="M420,110 L410,130 M300,190 L320,185"/><path class="f" d="M60,185 L155,155 L265,195 L268,345 L200,378 L175,375 L100,330 L55,290 Z"/><path d="M60,185 L175,225 L265,195 M175,225 L175,375 M55,290 L100,330 L175,375"/><ellipse cx="130" cy="197" rx="14" ry="8"/><ellipse class="f" cx="100" cy="240" rx="20" ry="26" stroke-width="1.5"/><path d="M85,230 L115,232 M85,242 L115,245 M88,254 L112,256" stroke-width="2"/><ellipse cx="107" cy="300" rx="10" ry="12"/><ellipse cx="207" cy="240" rx="17" ry="22"/><ellipse cx="207" cy="240" rx="11" ry="15"/><ellipse class="f" cx="228" cy="312" rx="24" ry="32"/><path d="M215,310 L275,330"/><path d="M30,188 Q40,178 50,188"/><path class="f" d="M900,128 L1010,178 L1000,218 L893,166 Z"/><path class="f" d="M858,138 L872,124 L898,126 L908,140 L906,160 L892,170 L868,168 L856,156 Z"/><path d="M880,124 L880,168"/><path class="f" d="M1000,190 L1022,176 L1062,186 L1082,206 L1078,232 L1055,242 L1020,232 L1002,214 Z"/><path d="M1022,178 L1022,232 M1040,182 L1040,238"/><ellipse cx="1062" cy="215" rx="12" ry="16"/></g><line x1="447.0" y1="280.3" x2="447.0" y2="294.2" class="ld"/><path d="M447.0,303.2L444.8,294.2L449.2,294.2Z" class="ah"/><line x1="233.0" y1="270.0" x2="226.9" y2="273.4" class="ld"/><path d="M219.0,277.7L225.8,271.4L227.9,275.3Z" class="ah"/><line x1="147.0" y1="356.0" x2="180.8" y2="337.6" class="ld"/><path d="M188.7,333.3L181.8,339.5L179.7,335.7Z" class="ah"/><line x1="186.5" y1="369.0" x2="215.9" y2="351.6" class="ld"/><path d="M223.6,347.0L217.0,353.5L214.7,349.7Z" class="ah"/><line x1="86.0" y1="325.5" x2="113.6" y2="306.6" class="ld"/><path d="M121.0,301.5L114.8,308.4L112.3,304.8Z" class="ah"/>
<g transform="translate(260,480) scale(0.18182)"><path class="w" d="M100,250 L150,240 L320,300 L620,410 L720,410 L850,380 L1000,410 L870,510 L880,530 L630,780 L620,760 L130,600 Q100,450 100,250 Z"/><path d="M150,240 L290,290 M320,305 L620,410 M130,600 Q100,450 100,250"/><path d="M130,585 L620,760 L870,510 M620,760 L630,780 M130,600 L630,780 L880,530 L870,510"/><path d="M1100,100 Q1050,330 1000,410 L870,510"/><path class="f" d="M460,75 L760,180 L700,320 L410,205 Z"/><path d="M460,75 L760,180 M410,205 L700,320" stroke-width="2"/><path class="f" d="M720,410 L800,440 L790,480 L710,455 Z"/><path class="f" d="M710,610 L865,512 L875,528 L722,628 Z"/><path class="f" d="M157,485 L157,525 Q185,550 213,525 L213,485 Z"/><ellipse class="f" cx="185" cy="485" rx="28" ry="18"/><path d="M157,505 Q185,525 213,505"/><ellipse cx="185" cy="480" rx="16" ry="10"/><path class="f" d="M350,555 L350,595 Q378,620 406,595 L406,555 Z"/><ellipse class="f" cx="378" cy="555" rx="28" ry="18"/><path d="M350,575 Q378,595 406,575"/><ellipse cx="378" cy="550" rx="16" ry="10"/><path class="f" d="M542,625 L542,665 Q570,690 598,665 L598,625 Z"/><ellipse class="f" cx="570" cy="625" rx="28" ry="18"/><path d="M542,645 Q570,665 598,645"/><ellipse cx="570" cy="620" rx="16" ry="10"/><ellipse cx="270" cy="460" rx="16" ry="10"/><ellipse cx="460" cy="530" rx="16" ry="10"/><ellipse cx="650" cy="605" rx="16" ry="10"/></g><g transform="translate(280,345) scale(0.18382)"><path d="M470,470 Q440,600 420,750 L400,900 M640,690 L620,820"/><path class="f" d="M410,510 L680,610 L690,760 L400,650 Q390,580 410,510 Z"/><path d="M410,510 L680,610" stroke-width="2"/><path class="f" d="M345,805 L640,915 L600,1050 L300,940 Z"/><path d="M345,805 L640,915" stroke-width="2"/><path class="f" d="M770,650 L850,680 L830,800 L760,790 Z"/><path class="f" d="M720,950 L800,980 L790,1060 L700,1040 Z"/><path d="M900,470 Q975,520 990,680 Q995,850 940,1000 L890,1115"/><path d="M430,470 Q560,460 650,500 M470,492 Q600,482 662,530"/><path d="M240,400 Q180,460 165,600 Q150,760 100,900 L0,1100 M270,420 Q210,480 195,620 Q185,780 130,920 L40,1115"/><path d="M330,530 Q310,700 290,850 Q262,1000 200,1115 M352,535 Q332,700 312,860 Q284,1010 222,1115"/><path d="M392,115 L420,245 M570,180 L600,300 M752,240 L800,400"/><g transform="scale(5.44) translate(-280,-345)"><path class="f" d="M337,441 C335,470 328,500 319,517 C310,532 300,545 289,552 L293,556 C305,549 314,536 323,520 C332,503 339,472 341,443 Z"/><path class="f" d="M397,436 C405,450 409,470 408,486 C406,505 400,520 395,530 C388,545 375,565 358,578 L363,581.5 C380,568 393,548 400,533 C405,522 411,507 412.5,488 C413,470 409,450 401,435 Z"/><path class="f" d="M431,457 C436,468 437.5,480 437.5,500 C436.5,515 433,522 429,530 C424,540 418,550 413,559 C405,570 397,580 390.5,589.5 L395,592 C402,583 410,573 417,562 C423,552 429,542 434,532 C438,523 441.5,515 442,500 C442,480 440,467 435,455 Z"/></g><path class="f" d="M75,195 L220,188 L220,262 L75,272 Z"/><ellipse class="f" cx="75" cy="233" rx="16" ry="38"/><ellipse cx="130" cy="230" rx="14" ry="34"/><path class="f" d="M300,80 Q325,48 362,60 Q388,75 392,115 L420,245 L300,400 L240,400 Q215,445 185,455 Q130,465 105,425 Q92,380 115,335 Z"/><ellipse cx="335" cy="125" rx="20" ry="30"/><ellipse cx="160" cy="395" rx="20" ry="28"/><ellipse class="f" cx="540" cy="440" rx="38" ry="58"/><path class="f" d="M475,150 Q500,120 535,130 Q565,145 570,180 L600,300 L470,470 Q420,525 345,520 Q290,510 282,460 Q282,420 305,395 Z"/><ellipse cx="520" cy="195" rx="20" ry="30"/><ellipse cx="435" cy="355" rx="22" ry="32"/><ellipse cx="340" cy="465" rx="20" ry="28"/><path class="f" d="M655,215 Q680,195 715,200 Q745,210 752,240 L800,400 L700,430 L600,500 Q555,505 555,460 Q560,400 600,320 Z"/><ellipse cx="705" cy="265" rx="20" ry="30"/><ellipse cx="620" cy="425" rx="20" ry="28"/><path class="f" d="M690,440 Q700,400 740,400 L900,460 L910,600 L790,590 Q700,530 690,440 Z"/><path d="M760,560 L820,610"/><ellipse cx="735" cy="465" rx="18" ry="25"/><ellipse class="f" cx="898" cy="540" rx="58" ry="68" stroke-width="1.4"/><ellipse cx="902" cy="540" rx="45" ry="56"/><ellipse cx="905" cy="540" rx="38" ry="48"/><path d="M610,430 L1010,580"/><path class="f" d="M235,277.0 L250.0,259 L280.0,259 L295,277.0 L295,313.0 L280.0,331 L250.0,331 L235,313.0 Z"/><path d="M256.0,259 L256.0,331"/><ellipse cx="280.0" cy="295" rx="12.0" ry="18.0"/></g><g transform="translate(110,395) scale(0.18382)"><path d="M410,440 Q370,560 385,700 Q395,780 410,830"/><path class="f" d="M370,300 L500,335 L470,450 L380,420 Q340,410 345,360 Q345,310 370,300 Z"/><path class="f" d="M545,370 L690,410 L650,530 L545,500 Q520,480 522,430 Q525,380 545,370 Z"/><path class="f" d="M310,550 L610,660 L600,800 L300,700 Q290,620 310,550 Z"/><path d="M310,550 L610,660" stroke-width="2"/><path class="f" d="M335,830 L600,930 L600,990 L340,890 Z"/><path d="M335,830 L600,930" stroke-width="1.6"/><path class="f" d="M710,560 L800,585 L790,620 L700,610 Z"/><path class="f" d="M680,690 L760,720 L750,860 L670,830 Z"/><path class="f" d="M700,970 L790,1000 L780,1080 L700,1060 Z"/><ellipse class="f" cx="225" cy="470" rx="25" ry="38"/><path class="f" d="M195,670 Q190,700 205,780 L225,790 Q215,730 220,680 Z"/><path class="f" d="M250,210 Q190,195 165,250 L105,420 Q65,580 75,720 Q90,840 160,925 L295,1000 L305,985 L185,905 Q125,820 125,700 Q125,560 175,420 L235,340 Q265,300 250,210 Z"/><path d="M240,213 Q180,203 158,258 L96,420 Q56,580 67,720 Q84,845 154,930 L288,1005"/><ellipse class="f" cx="208" cy="285" rx="40" ry="62"/><ellipse cx="212" cy="285" rx="28" ry="48"/><path d="M250,215 L360,145 M265,245 L360,160"/><path class="f" d="M372,110 Q385,50 430,46 Q475,45 490,80 L515,145 L548,192 L510,210 L450,240 Q395,330 340,480 Q285,640 290,800 Q300,920 350,995 L330,1005 Q270,920 255,800 Q245,640 290,480 Q330,330 372,110 Z"/><path d="M362,120 Q315,330 280,480 Q238,640 246,800 Q262,925 322,1008"/><ellipse cx="445" cy="118" rx="20" ry="30"/><path class="f" d="M487,228.0 L501.0,211 L529.0,211 L543,228.0 L543,262.0 L529.0,279 L501.0,279 L487,262.0 Z"/><path d="M506.6,211 L506.6,279"/><ellipse cx="529.0" cy="245" rx="11.200000000000001" ry="17.0"/><path class="f" d="M560,160 Q580,120 620,120 Q660,125 670,160 L700,220 L735,265 L700,330 L600,460 Q570,520 530,520 Q490,515 485,470 L500,420 Z"/><ellipse cx="625" cy="185" rx="20" ry="30"/><ellipse cx="695" cy="310" rx="25" ry="35"/><path class="f" d="M760,230 Q775,190 815,190 Q850,195 860,230 L890,290 L950,360 L900,420 Q800,500 720,650 Q660,800 660,950 L690,1100 L650,1110 Q610,950 620,800 Q650,600 700,400 Q730,300 760,230 Z"/><path d="M750,240 Q718,320 690,400 Q640,600 610,800 Q600,950 640,1112"/><ellipse cx="815" cy="258" rx="20" ry="30"/><ellipse class="f" cx="880" cy="380" rx="25" ry="30"/><path class="f" d="M800,520 Q775,600 767,705 Q755,880 770,980 Q790,1080 838,1144 L1101,1232 L1039,1144 Q960,1060 940,980 Q905,880 908,749 Q915,680 941,617 Z"/><path d="M785,560 Q762,650 757,740 Q748,880 762,980 Q780,1085 825,1148"/><path class="f" d="M790,520 L980,365 Q1020,360 1035,395 Q1040,430 1000,460 L850,560 Z"/><path d="M800,540 L990,380"/><ellipse class="f" cx="920" cy="570" rx="55" ry="62"/><ellipse cx="922" cy="570" rx="42" ry="50"/><ellipse cx="924" cy="570" rx="35" ry="42"/><path class="f" d="M982,415.0 L996.0,398 L1024.0,398 L1038,415.0 L1038,449.0 L1024.0,466 L996.0,466 L982,449.0 Z"/><path d="M1001.6,398 L1001.6,466"/><ellipse cx="1024.0" cy="432" rx="11.200000000000001" ry="17.0"/></g><g transform="translate(130,560) scale(0.22727)"><path d="M165,130 L890,420 M170,140 L885,428"/><path d="M135,210 L870,510 M140,218 L865,515"/><path d="M320,150 L270,290 M470,210 L410,350 M620,270 L560,410 M770,330 L700,510"/><path class="f" d="M235,285 L270,290 L265,325 L230,320 Z"/><path class="f" d="M385,345 L420,350 L415,385 L380,380 Z"/><path class="f" d="M535,405 L570,410 L565,445 L530,440 Z"/><path class="f" d="M90,268 L690,500 L835,580 L800,596 L100,290 Z"/><path d="M102,283 L688,512 L800,590"/><path class="f" d="M190,365 L240,375 L235,400 L195,392 Z"/><path d="M200,380 L230,388"/><path class="f" d="M345,425 L395,435 L390,460 L350,452 Z"/><path d="M355,440 L385,448"/><path class="f" d="M495,485 L545,495 L540,520 L500,512 Z"/><path d="M505,500 L535,508"/><path class="f" d="M645,565 L680,572 L665,645 L625,638 Z"/><path class="f" d="M600,645 L655,650 L650,680 L605,675 Z"/><path class="f" d="M700,245 L895,358 L887,376 L695,262 Z"/><path class="f" d="M805,230 L830,222 L842,245 L818,252 Z"/><path d="M820,250 L800,290"/><path d="M50,0 L150,70 L155,80 M200,95 L285,130 L290,120 M275,80 L370,110"/></g><path class="f" d="M465.0,450.0 L467.75,446.5 L473.25,446.5 L476.0,450.0 L476.0,457.0 L473.25,460.5 L467.75,460.5 L465.0,457.0 Z"/><path d="M468.85,446.5 L468.85,460.5"/><ellipse cx="473.25" cy="453.5" rx="2.2" ry="3.5"/><path class="f" d="M476,449 L499,458 L496,467 L475,458 Z"/><path class="f" d="M497.0,460.75 L500.25,457.0 L506.75,457.0 L510.0,460.75 L510.0,468.25 L506.75,472.0 L500.25,472.0 L497.0,468.25 Z"/><path d="M501.55,457.0 L501.55,472.0"/><ellipse cx="506.75" cy="464.5" rx="2.6" ry="3.75"/><line x1="354.5" y1="631.0" x2="329.3" y2="620.9" class="ld"/><path d="M321.0,617.5L330.2,618.8L328.5,622.9Z" class="ah"/><line x1="351.6" y1="661.0" x2="345.6" y2="659.7" class="ld"/><path d="M336.8,657.7L346.1,657.5L345.1,661.8Z" class="ah"/><line x1="343.6" y1="680.5" x2="338.7" y2="679.2" class="ld"/><path d="M330.0,677.0L339.3,677.1L338.2,681.4Z" class="ah"/><line x1="335.7" y1="698.6" x2="329.8" y2="697.2" class="ld"/><path d="M321.0,695.2L330.3,695.1L329.3,699.4Z" class="ah"/><line x1="223.0" y1="703.0" x2="259.6" y2="703.0" class="ld"/><path d="M268.6,703.0L259.6,705.2L259.6,700.8Z" class="ah"/><line x1="86.0" y1="550.9" x2="121.2" y2="550.9" class="ld"/><path d="M130.2,550.9L121.2,553.1L121.2,548.7Z" class="ah"/><line x1="510.0" y1="554.5" x2="450.0" y2="554.5" class="ld"/><path d="M441.0,554.5L450.0,552.3L450.0,556.7Z" class="ah"/><line x1="487.3" y1="419.5" x2="487.3" y2="442.0" class="ld"/><path d="M487.3,451.0L485.1,442.0L489.5,442.0Z" class="ah"/>
</g>
<g style="filter:grayscale(1)">
<text transform="translate(377.09,17.10) scale(0.785,1)" font-size="19.57">5</text>
<text transform="translate(376.91,36.61) scale(0.828,1)" font-size="19.15">6</text>
<text transform="translate(376.57,55.90) scale(0.924,1)" font-size="18.41">4</text>
<text transform="translate(168.51,45.80) scale(0.853,1)" font-size="18.55">7</text>
<text transform="translate(70.93,108.50) scale(0.594,1)" font-size="19.57">1</text>
<text transform="translate(418.25,157.51) scale(0.860,1)" font-size="19.30">8</text>
<text transform="translate(437.57,163.81) scale(0.724,1)" font-size="19.01">10</text>
<text transform="translate(466.95,172.11) scale(0.895,1)" font-size="18.73">9</text>
<text transform="translate(52.79,219.00) scale(0.843,1)" font-size="19.29">2</text>
<text transform="translate(69.32,218.81) scale(0.895,1)" font-size="19.01">3</text>
<text transform="translate(182.94,251.80) scale(0.714,1)" font-size="19.72">10</text>
<text transform="translate(234.94,271.80) scale(0.717,1)" font-size="19.72">16</text>
<text transform="translate(436.86,277.80) scale(0.768,1)" font-size="19.72">16</text>
<text transform="translate(66.86,340.00) scale(0.701,1)" font-size="21.74">17</text>
<text transform="translate(125.88,370.00) scale(0.687,1)" font-size="21.74">14</text>
<text transform="translate(163.86,386.79) scale(0.717,1)" font-size="21.13">13</text>
<text transform="translate(478.86,417.00) scale(0.711,1)" font-size="21.43">12</text>
<text transform="translate(66.76,557.00) scale(0.812,1)" font-size="20.29">11</text>
<text transform="translate(513.76,562.00) scale(0.812,1)" font-size="20.29">11</text>
<text transform="translate(359.26,643.00) scale(0.743,1)" font-size="20.00">22</text>
<text transform="translate(348.87,671.80) scale(0.765,1)" font-size="19.72">18</text>
<text transform="translate(343.86,690.80) scale(0.768,1)" font-size="19.72">19</text>
<text transform="translate(339.26,709.80) scale(0.746,1)" font-size="19.72">20</text>
<text transform="translate(203.31,710.00) scale(0.693,1)" font-size="20.00">21</text>
<text transform="translate(820.90,485.78) scale(0.903,1)" font-size="21.77">With teeth:</text>
<text transform="translate(1075.12,569.80) scale(0.895,1)" font-size="19.72">25</text>
<text transform="translate(1075.11,602.80) scale(0.899,1)" font-size="19.72">23</text>
<text transform="translate(1075.11,646.80) scale(0.899,1)" font-size="19.72">26</text>
<text transform="translate(1075.13,698.00) scale(0.874,1)" font-size="20.00">24</text>
<text transform="translate(82.53,748.41) scale(0.876,1)" font-size="19.15">33</text>
<text transform="translate(125.68,748.41) scale(0.860,1)" font-size="19.15">28</text>
<text transform="translate(214.32,748.81) scale(0.890,1)" font-size="19.01">34</text>
<text transform="translate(307.56,748.81) scale(0.881,1)" font-size="19.01">29</text>
<text transform="translate(333.13,749.00) scale(0.904,1)" font-size="19.29">27</text>
<text transform="translate(391.14,748.81) scale(0.872,1)" font-size="19.01">36</text>
<text transform="translate(459.11,748.81) scale(0.913,1)" font-size="19.01">37</text>
<text transform="translate(82.53,849.21) scale(0.876,1)" font-size="19.15">33</text>
<text transform="translate(125.68,849.21) scale(0.860,1)" font-size="19.15">28</text>
<text transform="translate(214.32,849.61) scale(0.899,1)" font-size="19.01">35</text>
<text transform="translate(307.56,849.61) scale(0.881,1)" font-size="19.01">29</text>
<text transform="translate(333.13,849.80) scale(0.904,1)" font-size="19.29">27</text>
<text transform="translate(391.14,849.61) scale(0.872,1)" font-size="19.01">36</text>
<text transform="translate(459.11,849.61) scale(0.913,1)" font-size="19.01">37</text>
<text transform="translate(3.43,792.32) scale(0.755,1)" font-size="17.69">Close:</text>
<text transform="translate(3.42,888.49) scale(0.776,1)" font-size="16.70">Open:</text>
<text transform="translate(87.13,1035.50) scale(0.898,1)" font-size="19.29">27</text>
<text transform="translate(128.14,1035.31) scale(0.902,1)" font-size="19.01">29</text>
<text transform="translate(183.83,1035.31) scale(0.883,1)" font-size="19.01">30</text>
<text transform="translate(293.30,1035.31) scale(0.918,1)" font-size="19.01">32</text>
<text transform="translate(349.41,1035.31) scale(0.773,1)" font-size="19.01">31</text>
<text transform="translate(441.38,1035.31) scale(0.810,1)" font-size="19.01">31</text>
<text transform="translate(2.63,1076.41) scale(1.017,1)" font-size="17.11">Cyl:</text>
<text transform="translate(514.92,1077.53) scale(0.933,1)" font-size="17.43">Acc.</text>
<text transform="translate(815.91,844.77) scale(0.759,1)" font-size="22.86">Acc.</text>
<text transform="translate(965.08,922.41) scale(1.073,1)" font-size="17.11">Cyl.</text>
<text transform="translate(782.38,1081.54) scale(0.831,1)" font-size="16.48">Open</text>
<text transform="translate(864.33,1084.80) scale(0.657,1)" font-size="20.41">Close</text>
</g>
</svg>
</body></html>
